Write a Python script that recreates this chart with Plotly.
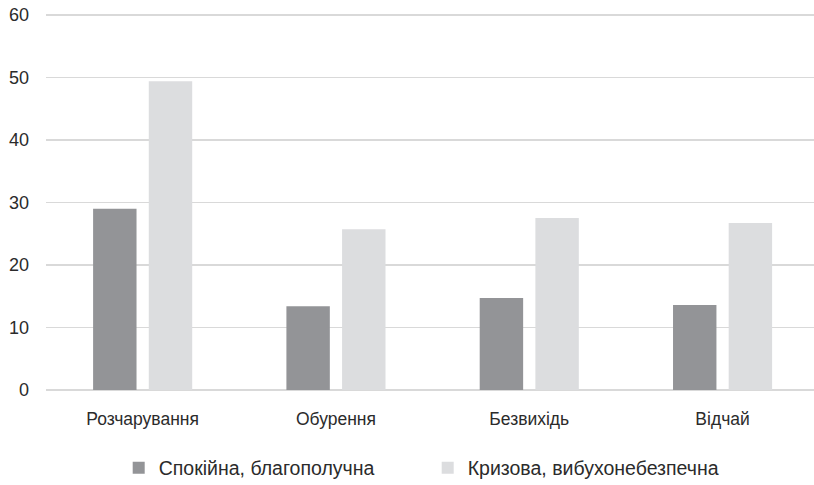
import plotly.graph_objects as go

categories = ["Розчарування", "Обурення", "Безвихідь", "Відчай"]
series_names = ["Спокійна, благополучна", "Кризова, вибухонебезпечна"]
calm_values = [29.0, 13.4, 14.7, 13.6]
crisis_values = [49.4, 25.7, 27.5, 26.7]
y_ticks = [0, 10, 20, 30, 40, 50, 60]

colors = ["#939497", "#dcdddf"]

fig = go.Figure()
fig.add_trace(go.Bar(x=categories, y=calm_values, name=series_names[0],
                     marker=dict(color=colors[0], line=dict(width=0))))
fig.add_trace(go.Bar(x=categories, y=crisis_values, name=series_names[1],
                     marker=dict(color=colors[1], line=dict(width=0))))

font_family = "Liberation Sans, Arial, sans-serif"
text_color = "#2b2b2b"
fig.update_layout(
    width=814, height=485,
    margin=dict(l=46, r=0, t=13, b=95, autoexpand=False),
    paper_bgcolor="white", plot_bgcolor="white",
    barmode="group", bargap=0.424, bargroupgap=0.22,
    font=dict(family=font_family, size=18, color=text_color),
    showlegend=True,
    legend=dict(orientation="h", x=0.497, xref="paper", xanchor="center",
                y=-0.207, yanchor="middle",
                font=dict(size=19.5, color=text_color),
                entrywidth=264, entrywidthmode="pixels",
                itemclick=False, itemdoubleclick=False),
)
fig.update_xaxes(type="category", range=[-0.5, 3.473], showgrid=False,
                 showline=False, ticks="", ticklabelstandoff=16,
                 tickfont=dict(size=17.5, color=text_color))
fig.update_yaxes(range=[0, 60.3], tickvals=y_ticks, showgrid=True,
                 gridcolor="#d9d9d9", gridwidth=1.3,
                 zeroline=True, zerolinecolor="#d9d9d9", zerolinewidth=1.3,
                 showline=False, ticks="", ticklabelstandoff=16,
                 tickfont=dict(size=18, color=text_color))

fig.write_html("out.html",
               config={"displayModeBar": False, "staticPlot": True},
               post_script="document.body.style.margin='0';document.body.style.padding='0';")
